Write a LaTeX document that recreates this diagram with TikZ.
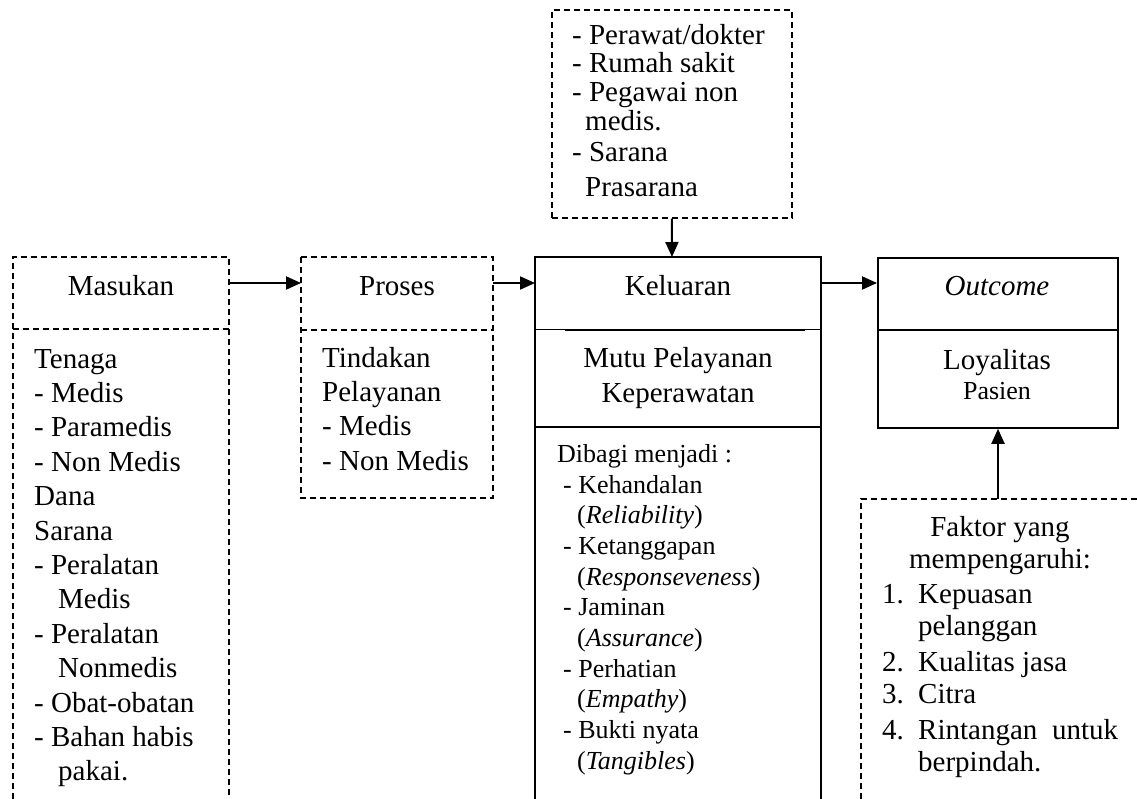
\documentclass[tikz,border=0pt]{standalone}
\usepackage{fontspec}
\setmainfont{Liberation Serif}
\usetikzlibrary{arrows.meta}
\begin{document}
\begin{tikzpicture}[x=1pt,y=-1pt,
  sol/.style={line width=1.8pt},
  dsh/.style={line width=1.6pt, dash pattern=on 6pt off 4pt},
  arr/.style={line width=2pt,-{Triangle[length=15pt,width=13pt]}},
  big/.style={font=\fontsize{29}{34}\selectfont, inner sep=0pt},
  mid/.style={font=\fontsize{26}{31}\selectfont, inner sep=0pt},
  tl/.style={big, anchor=base west},
  tc/.style={big, anchor=base},
  ml/.style={mid, anchor=base west}]
\path[use as bounding box] (0,0) rectangle (1137,799);

% ---- top box
\node[draw, dsh, minimum width=240pt, minimum height=208pt, anchor=north west, inner sep=0pt] (topbox) at (551,9) {};
\node[tl] (tp1) at (572,45) {- Perawat/dokter};
\node[tl] (tp2) at (572,73) {- Rumah sakit};
\node[tl] (tp3) at (572,102) {- Pegawai non};
\node[tl] (tp4) at (585,131) {medis.};
\node[tl] (tp5) at (572,162) {- Sarana};
\node[tl] (tp6) at (585,197) {Prasarana};

% ---- Masukan
\draw[dsh] (13,799) -- (13,257) -- (229,257) -- (229,799);
\draw[dsh, line width=2.4pt] (13,329) -- (229,329);
\node[tc] (mas) at (121,295.5) {Masukan};
\foreach \t [count=\i from 0] in {Tenaga, - Medis, - Paramedis, - Non Medis, Dana, Sarana, - Peralatan, {\hspace*{24pt}Medis}, - Peralatan, {\hspace*{24pt}Nonmedis}, - Obat-obatan, - Bahan habis, {\hspace*{24pt}pakai.}}
  \node[tl] (ms\i) at ({34},{368+34.4*\i}) {\t};

% ---- Proses
\draw[dsh] (301,257) rectangle (493,498);
\draw[dsh] (301,330) -- (493,330);
\node[tc] (pro) at (397,295.5) {Proses};
\foreach \t [count=\i from 0] in {Tindakan, Pelayanan, - Medis, - Non Medis}
  \node[tl] (ps\i) at ({322},{367+34.4*\i}) {\t};

% ---- Keluaran
\draw[sol] (535,799) -- (535,257) -- (821,257) -- (821,799);
\draw[sol] (535,329.5) -- (821,329.5);
\draw[sol] (565,330.6) -- (805,330.6);
\draw[sol] (535,427) -- (821,427);
\node[tc] (kel) at (678,295.5) {Keluaran};
\node[tc] (mutu1) at (678,367.5) {Mutu Pelayanan};
\node[tc] (mutu2) at (678,402.5) {Keperawatan};
\node[ml] (dib) at (557,462) {Dibagi menjadi :};
\foreach \t/\x [count=\i from 0] in {{- Kehandalan}/563, {(\textit{Reliability})}/577, {- Ketanggapan}/563, {(\textit{Responseveness})}/577, {- Jaminan}/563, {(\textit{Assurance})}/577, {- Perhatian}/563, {(\textit{Empathy})}/577, {- Bukti nyata}/563, {(\textit{Tangibles})}/577}
  \node[ml] (kl\i) at ({\x},{493+30.7*\i}) {\t};

% ---- Outcome
\node[draw, sol, minimum width=240pt, minimum height=170pt, anchor=north west, inner sep=0pt] (outbox) at (877,257) {};
\draw[sol, line width=2.6pt] (877,330) -- (1117,330);
\node[tc] (out) at (997,295.5) {\textit{Outcome}};
\node[tc] (loy) at (997,369) {Loyalitas};
\node[mid, anchor=base] (pas) at (997,399) {Pasien};

% ---- Faktor
\draw[dsh] (861,799) -- (861,499) -- (1137,499);
\coordinate (fk) at (998,499);
\node[tc] (fa1) at (1000,536) {Faktor yang};
\node[tc] (fa2) at (1000,568) {mempengaruhi:};
\node[tl] (n1) at (882,603) {1.};
\node[tl] (f1) at (918,603) {Kepuasan};
\node[tl] (f1b) at (918,635) {pelanggan};
\node[tl] (n2) at (882,671) {2.};
\node[tl] (f2) at (918,671) {Kualitas jasa};
\node[tl] (n3) at (882,703) {3.};
\node[tl] (f3) at (918,703) {Citra};
\node[tl] (n4) at (882,739) {4.};
\node[tl] (f4) at (918,739) {\makebox[200pt][s]{Rintangan untuk}};
\node[tl] (f4b) at (918,771) {berpindah.};

% ---- arrows
\coordinate (masR) at (229,283);
\coordinate (proL) at (301,283);
\coordinate (proR) at (493,283);
\coordinate (kelL) at (535,283);
\coordinate (kelR) at (821,283);
\coordinate (outL) at (877,283);
\coordinate (kelT) at (672,257);
\draw[arr] (masR) -- (proL);
\draw[arr] (proR) -- (kelL);
\draw[arr] (kelR) -- (outL);
\draw[arr] (topbox.south) -- (kelT);
\draw[arr] (fk) -- (fk |- outbox.south);
\end{tikzpicture}
\end{document}
